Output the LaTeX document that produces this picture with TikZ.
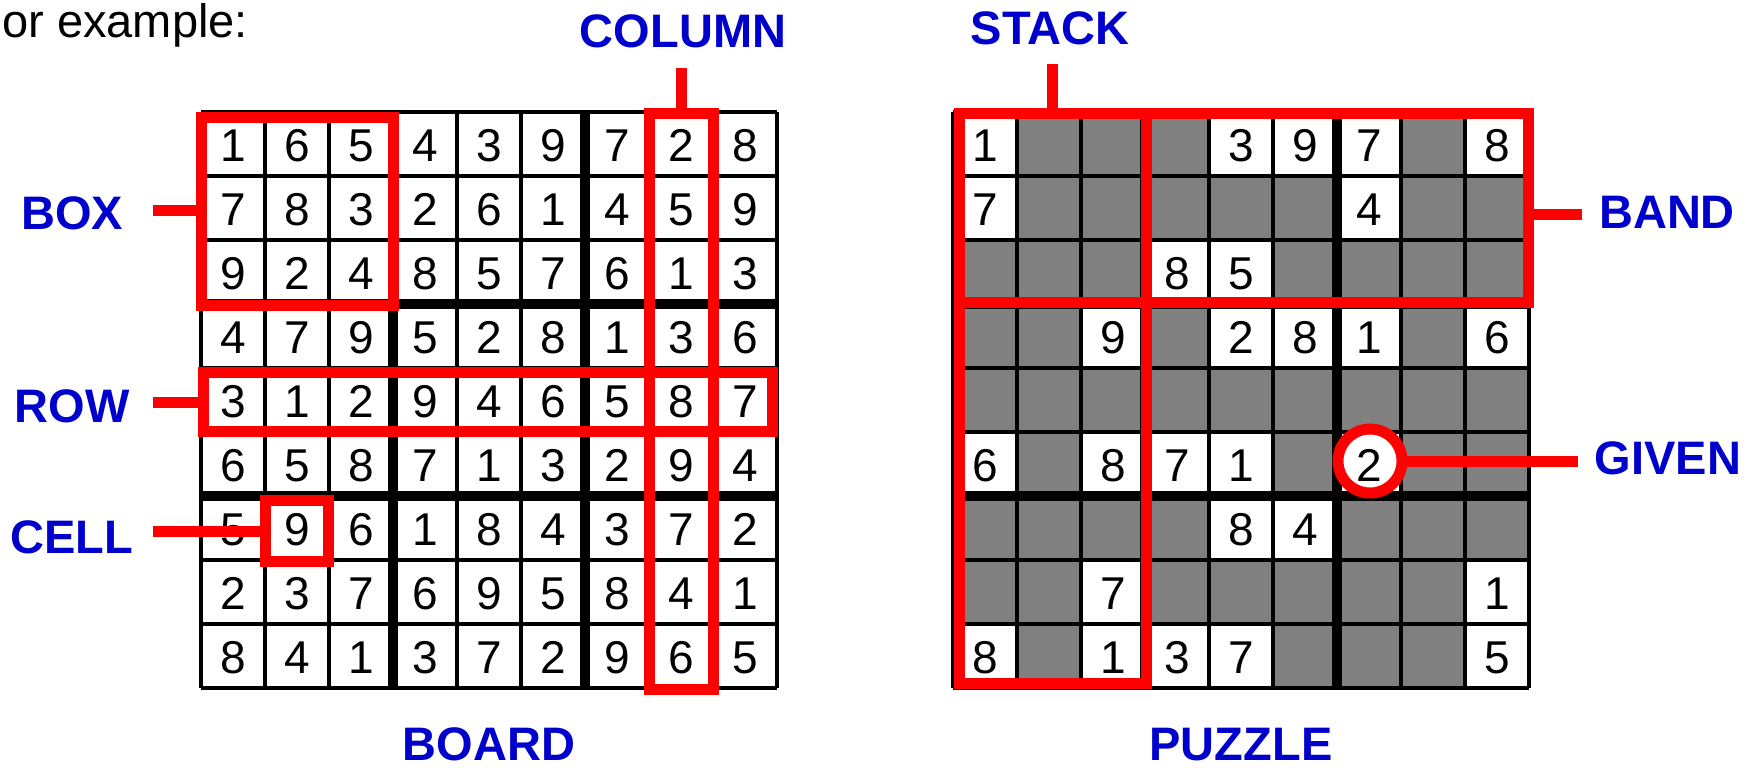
\documentclass[tikz,border=0pt]{standalone}
\usepackage{fontspec}
\setmainfont{Liberation Sans}
\definecolor{lblblue}{RGB}{0,0,204}
\definecolor{hired}{RGB}{255,0,0}
\definecolor{cellgray}{RGB}{128,128,128}
\tikzset{
  digit/.style={anchor=base, inner sep=0pt, font=\fontsize{23}{27}\selectfont},
  lbl/.style={anchor=base, inner sep=0pt, text=lblblue, font=\fontsize{23.5}{28}\selectfont\bfseries},
  thinline/.style={line width=2pt, black},
  thickline/.style={line width=5pt, black},
  redbox/.style={draw=hired, line width=5.5pt, rectangle, inner sep=0pt, outer sep=0pt},
  redline/.style={draw=hired, line width=5.5pt},
}
\begin{document}
\begin{tikzpicture}[x=0.5pt,y=-0.5pt]
\useasboundingbox (0,0) rectangle (1760,772);
\node[anchor=base west, inner sep=0pt, font=\fontsize{23.5}{28}\selectfont] (intro) at (2,37) {or example:};

% ---------- BOARD (left) ----------
\foreach \k in {0,...,9} {
  \draw[thinline] (201+64*\k,112) -- (201+64*\k,688);
  \draw[thinline] (201,112+64*\k) -- (777,112+64*\k);
}
\foreach \k in {3,6} {
  \draw[thickline] (201+64*\k,112) -- (201+64*\k,688);
  \draw[thickline] (201,112+64*\k) -- (777,112+64*\k);
}
\foreach \row [count=\r] in {{1,6,5,4,3,9,7,2,8},{7,8,3,2,6,1,4,5,9},{9,2,4,8,5,7,6,1,3},{4,7,9,5,2,8,1,3,6},{3,1,2,9,4,6,5,8,7},{6,5,8,7,1,3,2,9,4},{5,9,6,1,8,4,3,7,2},{2,3,7,6,9,5,8,4,1},{8,4,1,3,7,2,9,6,5}} {
  \foreach \d [count=\c] in \row {
    \node[digit] (L\r-\c) at (169+64*\c,97+64*\r) {\d};
  }
}

% ---------- PUZZLE (right) ----------
\fill[cellgray] (953,112) rectangle (1529,688);
\foreach \r/\c/\d in {1/1/1,1/5/3,1/6/9,1/7/7,1/9/8,2/1/7,2/7/4,3/4/8,3/5/5,4/3/9,4/5/2,4/6/8,4/7/1,4/9/6,6/1/6,6/3/8,6/4/7,6/5/1,6/7/2,7/5/8,7/6/4,8/3/7,8/9/1,9/1/8,9/3/1,9/4/3,9/5/7,9/9/5} {
  \fill[white] (889+64*\c,48+64*\r) rectangle (953+64*\c,112+64*\r);
}
\foreach \k in {0,...,9} {
  \draw[thinline] (953+64*\k,112) -- (953+64*\k,688);
  \draw[thinline] (953,112+64*\k) -- (1529,112+64*\k);
}
\foreach \k in {3,6} {
  \draw[thickline] (953+64*\k,112) -- (953+64*\k,688);
  \draw[thickline] (953,112+64*\k) -- (1529,112+64*\k);
}
\foreach \r/\c/\d in {1/1/1,1/5/3,1/6/9,1/7/7,1/9/8,2/1/7,2/7/4,3/4/8,3/5/5,4/3/9,4/5/2,4/6/8,4/7/1,4/9/6,6/1/6,6/3/8,6/4/7,6/5/1,6/7/2,7/5/8,7/6/4,8/3/7,8/9/1,9/1/8,9/3/1,9/4/3,9/5/7,9/9/5} {
  \node[digit] (P\r-\c) at (921+64*\c,97+64*\r) {\d};
}

% ---------- red highlights ----------
\node[redbox, minimum width=96pt, minimum height=94pt] (boxr) at (297,211) {};
\node[redbox, minimum width=284.5pt, minimum height=29.5pt] (rowr) at (487.5,401.5) {};
\node[redbox, minimum width=32pt, minimum height=288pt] (colr) at (681,401) {};
\node[redbox, minimum width=31.5pt, minimum height=30.5pt] (cellr) at (296.5,530.5) {};
\node[redbox, minimum width=284.5pt, minimum height=94.5pt] (bandr) at (1243.5,207.5) {};
\node[redbox, minimum width=93.5pt, minimum height=285pt] (stackr) at (1052.5,398) {};
\node[redbox, circle, minimum size=32pt] (givenr) at (1370,461) {};

% ---------- labels ----------
\node[lbl] (boxl) at (72,229) {BOX};
\node[lbl] (rowl) at (72,422) {ROW};
\node[lbl] (celll) at (72,553) {CELL};
\node[lbl] (coll) at (683,47) {COLUMN};
\node[lbl] (stackl) at (1050,44) {STACK};
\node[lbl] (bandl) at (1667,228) {BAND};
\node[lbl] (givenl) at (1668,474) {GIVEN};
\node[lbl] (boardl) at (489,760) {BOARD};
\node[lbl] (puzzlel) at (1241,760) {PUZZLE};

% ---------- connectors ----------
\coordinate (boxc) at (153,210);
\coordinate (rowc) at (153,402);
\coordinate (cellc) at (153,531);
\coordinate (colc) at (681,68);
\coordinate (stackc) at (1052,64);
\coordinate (bandc) at (1582,214);
\coordinate (givenc) at (1578,461);
\draw[redline] (boxc) -- (boxr.west |- boxc);
\draw[redline] (rowc) -- (rowr.west |- rowc);
\draw[redline] (cellc) -- (cellr.west |- cellc);
\draw[redline] (colc) -- (colr.north);
\draw[redline] (stackc) -- (stackc |- stackr.north);
\draw[redline] (bandc) -- (bandr.east |- bandc);
\draw[redline] (givenc) -- (givenr.east);
\end{tikzpicture}
\end{document}
